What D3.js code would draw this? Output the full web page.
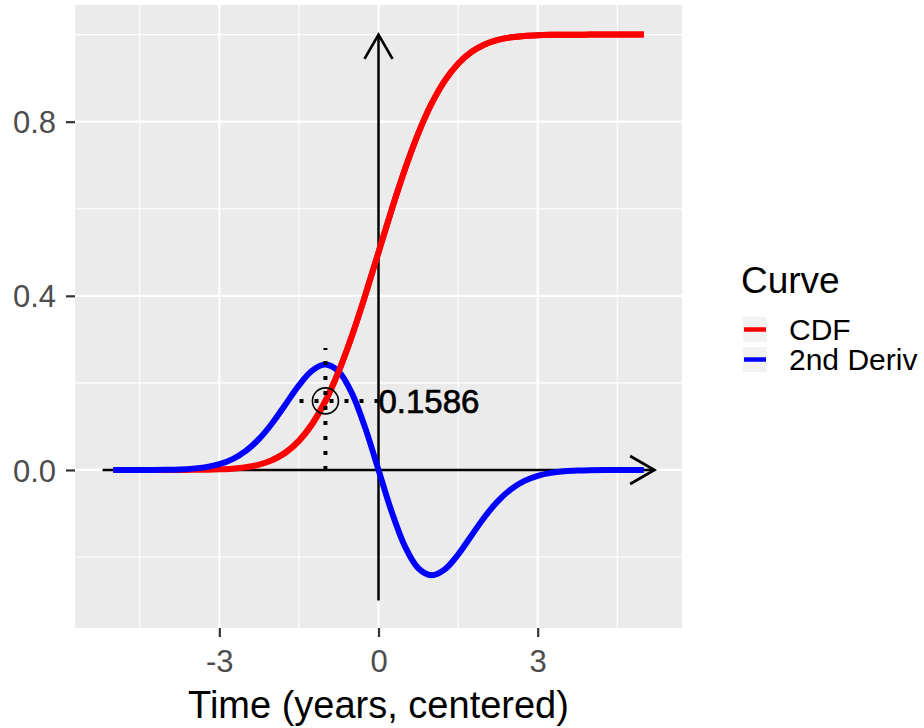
<!DOCTYPE html>
<html>
<head>
<meta charset="utf-8">
<script src="https://cdn.jsdelivr.net/npm/d3@7"></script>
<style>
  html, body { margin: 0; padding: 0; background: #ffffff; }
  svg { display: block; font-family: "Liberation Sans", Arial, Helvetica, sans-serif; }
</style>
</head>
<body>
<svg id="chart" width="924" height="728"></svg>
<script>
// Time grid (years, centered)
const times = [-5, -4.75, -4.5, -4.25, -4, -3.75, -3.5, -3.25, -3, -2.75, -2.5, -2.25, -2, -1.75, -1.5, -1.25, -1, -0.75, -0.5, -0.25,
  0, 0.25, 0.5, 0.75, 1, 1.25, 1.5, 1.75, 2, 2.25, 2.5, 2.75, 3, 3.25, 3.5, 3.75, 4, 4.25, 4.5, 4.75, 5];

// Cumulative curve
const cdfValues = [0.0000003, 0.000001, 0.0000034, 0.0000107, 0.0000317, 0.0000884, 0.000233, 0.000577, 0.00135, 0.00298,
  0.00621, 0.01222, 0.02275, 0.04006, 0.06681, 0.10565, 0.15866, 0.22663, 0.30854, 0.40129,
  0.5, 0.59871, 0.69146, 0.77337, 0.84134, 0.89435, 0.93319, 0.95994, 0.97725, 0.98778,
  0.99379, 0.99702, 0.99865, 0.99942, 0.99977, 0.99991, 0.99997, 0.99999, 1.0, 1.0, 1.0];

// Second derivative of the cumulative curve
const derivValues = [0.0000074, 0.000024, 0.000072, 0.000203, 0.000535, 0.001323, 0.003055, 0.006598, 0.0133, 0.025,
  0.04382, 0.07142, 0.10798, 0.15099, 0.19428, 0.22831, 0.24197, 0.22586, 0.17603, 0.09667,
  0, -0.09667, -0.17603, -0.22586, -0.24197, -0.22831, -0.19428, -0.15099, -0.10798, -0.07142,
  -0.04382, -0.025, -0.0133, -0.006598, -0.003055, -0.001323, -0.000535, -0.000203, -0.000072, -0.000024, -0.0000074];

const seriesNames = ["CDF", "2nd Deriv"];
const seriesColors = ["#FF0000", "#0000FF"];

const xTicks = [-3, 0, 3];
const xTickLabels = ["-3", "0", "3"];
const xMinor = [-4.5, -1.5, 1.5, 4.5];
const yTicks = [0, 0.4, 0.8];
const yTickLabels = ["0.0", "0.4", "0.8"];
const yMinor = [-0.2, 0.2, 0.6, 1.0];

// Marked point on the cumulative curve
const markTime = -1;
const markValue = 0.1586;
const markLabel = "0.1586";
const guideTop = 0.28;
const guideLeft = -1.5;

// Axis arrows
const xArrow = [-5.2, 5.2];
const yArrow = [-0.3, 1.0];

const panel = { left: 75, right: 682, top: 5, bottom: 628 };

const x = d3.scaleLinear().domain([-5.72, 5.72]).range([panel.left, panel.right]);
const y = d3.scaleLinear().domain([-0.363, 1.068]).range([panel.bottom, panel.top]);

const svg = d3.select("#chart");

// Panel background
svg.append("rect")
  .attr("x", panel.left).attr("y", panel.top)
  .attr("width", panel.right - panel.left).attr("height", panel.bottom - panel.top)
  .attr("fill", "#EBEBEB");

// Grid
const grid = svg.append("g");
grid.selectAll(".vminor").data(xMinor).join("line")
  .attr("x1", d => x(d)).attr("x2", d => x(d))
  .attr("y1", panel.top).attr("y2", panel.bottom)
  .attr("stroke", "#ffffff").attr("stroke-width", 1.1);
grid.selectAll(".hminor").data(yMinor).join("line")
  .attr("y1", d => y(d)).attr("y2", d => y(d))
  .attr("x1", panel.left).attr("x2", panel.right)
  .attr("stroke", "#ffffff").attr("stroke-width", 1.1);
grid.selectAll(".vmajor").data(xTicks).join("line")
  .attr("x1", d => x(d)).attr("x2", d => x(d))
  .attr("y1", panel.top).attr("y2", panel.bottom)
  .attr("stroke", "#ffffff").attr("stroke-width", 2.2);
grid.selectAll(".hmajor").data(yTicks).join("line")
  .attr("y1", d => y(d)).attr("y2", d => y(d))
  .attr("x1", panel.left).attr("x2", panel.right)
  .attr("stroke", "#ffffff").attr("stroke-width", 2.2);

// Axes
const xAxis = d3.axisBottom(x).tickValues(xTicks)
  .tickFormat((d, i) => xTickLabels[i]).tickSize(9).tickPadding(13);
const yAxis = d3.axisLeft(y).tickValues(yTicks)
  .tickFormat((d, i) => yTickLabels[i]).tickSize(9).tickPadding(10);

const gx = svg.append("g").attr("transform", `translate(0,${panel.bottom})`).call(xAxis);
const gy = svg.append("g").attr("transform", `translate(${panel.left},0)`).call(yAxis);
[gx, gy].forEach(g => {
  g.select(".domain").remove();
  g.selectAll(".tick line").attr("stroke", "#333333").attr("stroke-width", 2.2);
  g.selectAll(".tick text").attr("fill", "#4D4D4D").style("font-size", "31px")
    .style("font-family", "'Liberation Sans', Arial, sans-serif");
});
gx.selectAll(".tick text").attr("dy", "0.71em");
gy.selectAll(".tick text").attr("dy", "0.36em");

svg.append("text")
  .attr("x", (panel.left + panel.right) / 2)
  .attr("y", 718)
  .attr("text-anchor", "middle")
  .style("font-size", "38px")
  .attr("fill", "#000")
  .text("Time (years, centered)");

// Arrow axes through the origin
function arrowHead(g, tipX, tipY, angle) {
  const len = 28, spread = Math.PI / 6;
  const pts = [angle + Math.PI - spread, angle + Math.PI + spread].map(a => [tipX + len * Math.cos(a), tipY + len * Math.sin(a)]);
  g.append("path")
    .attr("d", `M${pts[0][0]},${pts[0][1]}L${tipX},${tipY}L${pts[1][0]},${pts[1][1]}`)
    .attr("fill", "none").attr("stroke", "#000").attr("stroke-width", 2.7)
    .attr("stroke-linecap", "butt").attr("stroke-linejoin", "miter");
}
const arrows = svg.append("g");
arrows.append("line")
  .attr("x1", x(xArrow[0])).attr("x2", x(xArrow[1]))
  .attr("y1", y(0)).attr("y2", y(0))
  .attr("stroke", "#000").attr("stroke-width", 2.5);
arrowHead(arrows, x(xArrow[1]), y(0), 0);
arrows.append("line")
  .attr("x1", x(0)).attr("x2", x(0))
  .attr("y1", y(yArrow[0])).attr("y2", y(yArrow[1]))
  .attr("stroke", "#000").attr("stroke-width", 2.5);
arrowHead(arrows, x(0), y(yArrow[1]), -Math.PI / 2);

// Curves
const cdfData = times.map((t, i) => ({ t, v: cdfValues[i] }));
const derivData = times.map((t, i) => ({ t, v: derivValues[i] }));
const line = d3.line().x(d => x(d.t)).y(d => y(d.v)).curve(d3.curveCatmullRom.alpha(0.5));

const curves = svg.append("g").attr("fill", "none").attr("stroke-width", 6)
  .attr("stroke-linejoin", "round").attr("stroke-linecap", "butt");
curves.append("path").datum(cdfData).attr("d", line).attr("stroke", seriesColors[0]);
curves.append("path").datum(derivData).attr("d", line).attr("stroke", seriesColors[1]);
// the rising part of the cumulative curve sits over the derivative
curves.append("path").datum(cdfData.filter(d => d.t >= -2)).attr("d", line).attr("stroke", seriesColors[0]);

// Dotted guides to the marked point
const guides = svg.append("g").attr("stroke", "#000").attr("stroke-width", 4)
  .attr("stroke-dasharray", "4 11").attr("fill", "none");
guides.append("line")
  .attr("x1", x(markTime)).attr("x2", x(markTime))
  .attr("y1", y(0)).attr("y2", y(guideTop));
guides.append("line")
  .attr("x1", x(0)).attr("x2", x(guideLeft))
  .attr("y1", y(markValue)).attr("y2", y(markValue));

svg.append("circle")
  .attr("cx", x(markTime)).attr("cy", y(markValue)).attr("r", 13)
  .attr("fill", "none").attr("stroke", "#000").attr("stroke-width", 1.6);

svg.append("text")
  .attr("x", x(0))
  .attr("y", y(markValue))
  .attr("dy", "0.38em")
  .attr("fill", "#000").attr("stroke", "#000").attr("stroke-width", 0.7)
  .style("font-size", "33px")
  .text(markLabel);

// Legend
const legend = svg.append("g");
legend.append("text")
  .attr("x", 741).attr("y", 293)
  .style("font-size", "37px").attr("fill", "#000")
  .text("Curve");
const keys = legend.selectAll(".key").data(seriesNames).join("g")
  .attr("transform", (d, i) => `translate(743,${317 + i * 30})`);
keys.append("rect").attr("width", 24).attr("height", 25).attr("fill", "#F2F2F2");
keys.append("line").attr("x1", 1).attr("x2", 23).attr("y1", 12.5).attr("y2", 12.5)
  .attr("stroke", (d, i) => seriesColors[i]).attr("stroke-width", 4.5);
keys.append("text").attr("x", 46).attr("y", 12.5).attr("dy", "0.36em")
  .style("font-size", "30px").attr("fill", "#000")
  .text(d => d);
</script>
</body>
</html>
